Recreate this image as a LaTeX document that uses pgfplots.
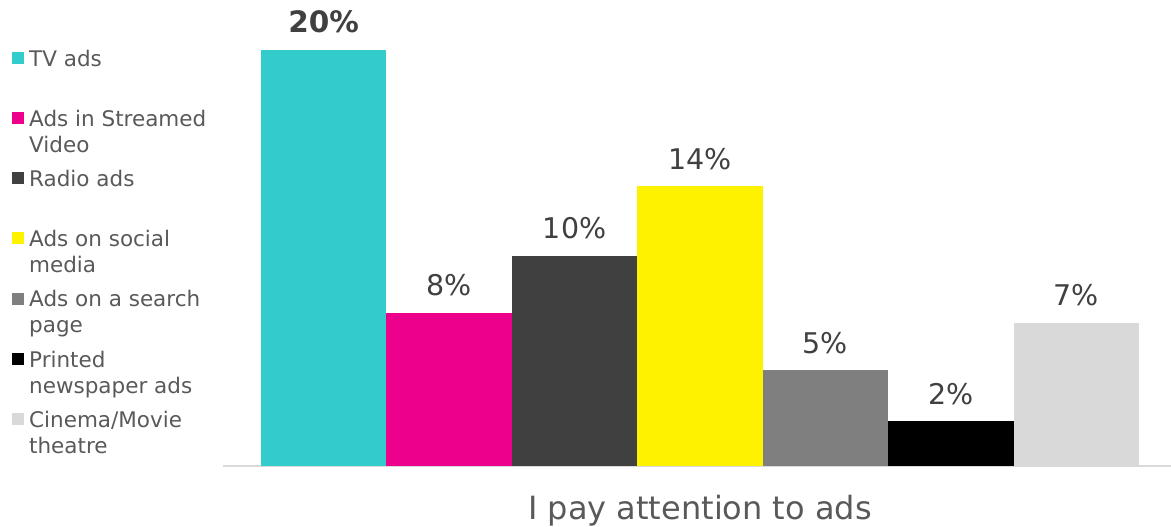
\documentclass[border=0pt]{standalone}
\usepackage{fontspec}
\setmainfont{DejaVu Sans}
\usepackage{pgfplots}
\pgfplotsset{compat=1.18}

\definecolor{tvc}{HTML}{33CCCC}
\definecolor{strc}{HTML}{EC008C}
\definecolor{radc}{HTML}{404040}
\definecolor{socc}{HTML}{FFF200}
\definecolor{srchc}{HTML}{7F7F7F}
\definecolor{prnc}{HTML}{000000}
\definecolor{cinc}{HTML}{D9D9D9}
\definecolor{legtext}{HTML}{595959}
\definecolor{labc}{HTML}{404040}
\definecolor{axc}{HTML}{D9D9D9}

\newcommand{\entry}[1]{\parbox[t]{190pt}{\fontsize{21.5}{26}\selectfont #1}}

\begin{document}
\begin{tikzpicture}
\useasboundingbox (-223pt,-61pt) rectangle (948pt,466pt);
\begin{axis}[
    at={(0pt,0pt)}, anchor=south west,
    scale only axis,
    width=948pt, height=416pt,
    ybar, bar width=1,
    xmin=-0.803, xmax=6.755,
    ymin=0, ymax=20,
    clip=false,
    axis x line*=bottom,
    axis y line=none,
    x axis line style={-, draw=axc, line width=2pt},
    xtick={3}, xticklabels={I pay attention to ads},
    major tick length=0pt,
    xticklabel style={anchor=base, yshift=-53.5pt, text=legtext,
        font=\fontsize{32}{38}\selectfont},
    every node near coord/.append style={anchor=base, yshift=17pt,
        inner sep=0pt, text=labc, font=\fontsize{28.5}{34}\selectfont},
    legend image code/.code={\fill[#1] (0pt,-6pt) rectangle (12pt,6pt);},
    legend cell align=left,
    legend style={draw=none, fill=none, inner sep=0pt,
        at={(axis description cs:-0.2226,1.0053)}, anchor=north west,
        row sep=40.5pt,
        nodes={inner sep=0pt, text=legtext},
        /tikz/every odd column/.append style={column sep=5pt}},
]
\addplot[fill=tvc, draw=none, bar shift=0pt, nodes near coords={\textbf{\fontsize{29.5}{34}\selectfont 20\%}}] coordinates {(0,20)};
\addlegendentry{\entry{\strut TV ads}}
\addplot[fill=strc, draw=none, bar shift=0pt, nodes near coords={8\%}] coordinates {(1,7.36)};
\addlegendentry{\entry{\strut Ads in Streamed\\\strut Video}}
\addplot[fill=radc, draw=none, bar shift=0pt, nodes near coords={10\%}] coordinates {(2,10.1)};
\addlegendentry{\entry{\strut Radio ads}}
\addplot[fill=socc, draw=none, bar shift=0pt, nodes near coords={14\%}] coordinates {(3,13.46)};
\addlegendentry{\entry{\strut Ads on social\\\strut media}}
\addplot[fill=srchc, draw=none, bar shift=0pt, nodes near coords={5\%}] coordinates {(4,4.6)};
\addlegendentry{\entry{\strut Ads on a search\\\strut page}}
\addplot[fill=prnc, draw=none, bar shift=0pt, nodes near coords={2\%}] coordinates {(5,2.16)};
\addlegendentry{\entry{\strut Printed\\\strut newspaper ads}}
\addplot[fill=cinc, draw=none, bar shift=0pt, nodes near coords={7\%}] coordinates {(6,6.88)};
\addlegendentry{\entry{\strut Cinema/Movie\\\strut theatre}}
\end{axis}
\end{tikzpicture}
\end{document}
